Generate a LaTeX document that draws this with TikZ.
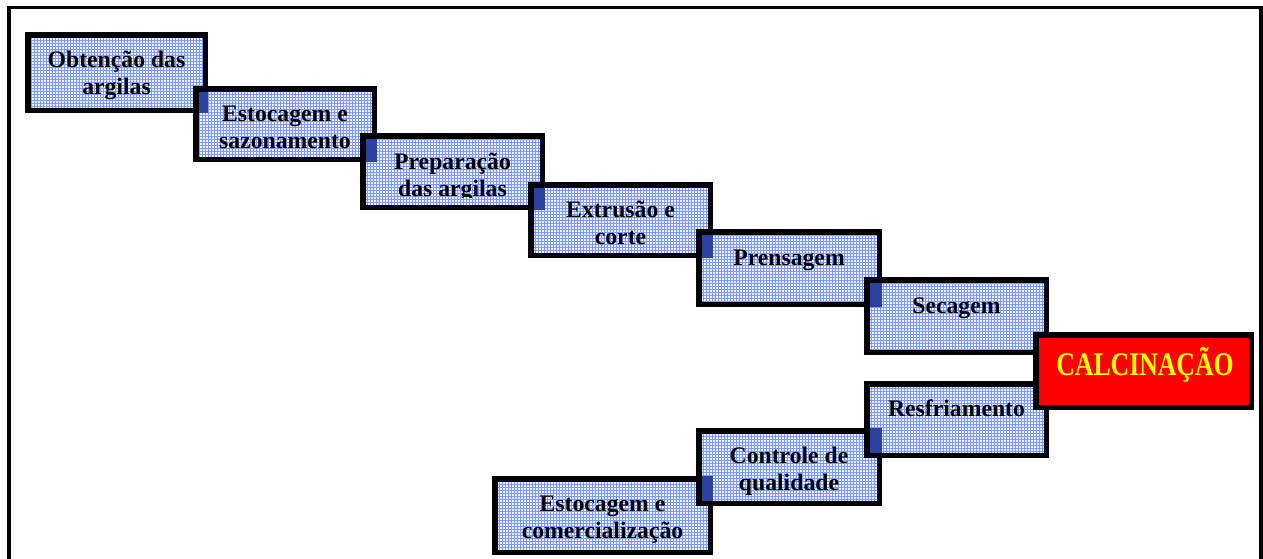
\documentclass[tikz,border=0pt]{standalone}
\usepackage{fontspec}
\setmainfont{Liberation Serif}
\usetikzlibrary{patterns.meta,calc}
\definecolor{boxfill}{RGB}{236,241,255}
\definecolor{gridline}{RGB}{125,152,245}
\definecolor{overlapfill}{RGB}{45,65,160}
\definecolor{calcred}{RGB}{255,0,0}
\definecolor{calcyellow}{RGB}{255,255,0}
\tikzdeclarepattern{
  name=finegrid,
  type=uncolored,
  bounding box={(-0.5pt,-0.5pt) and (3.5pt,3.5pt)},
  tile size={(3pt,3pt)},
  code={
    \draw[line width=1pt] (0pt,1.5pt) -- (3pt,1.5pt) (1.5pt,0pt) -- (1.5pt,3pt);
  }
}
\tikzset{
  stepbox/.style 2 args={draw=black, line width=5.5pt, outer sep=0pt, inner sep=0pt,
    preaction={fill=boxfill}, pattern=finegrid, pattern color=gridline,
    minimum width=#1, minimum height=#2},
  calcbox/.style 2 args={draw=black, line width=5.5pt, outer sep=0pt, inner sep=0pt,
    fill=calcred, minimum width=#1, minimum height=#2},
  boxtext/.style={font=\bfseries\fontsize{23.7}{27.4}\selectfont, align=center,
    inner sep=0pt, anchor=base},
  calctext/.style={font=\bfseries\fontsize{33}{36}\selectfont, text=calcyellow,
    inner sep=0pt, anchor=base},
  darkbit/.style={fill=overlapfill},
  frameline/.style={line width=3.8pt, draw=black}
}
\begin{document}
\begin{tikzpicture}[x=1pt,y=-1pt]
\useasboundingbox (0,0) rectangle (1263,558);
\fill[white] (0,0) rectangle (1263,558);
% frame (open at the bottom)
\coordinate (fbl) at (8.7,600);
\coordinate (ftl) at (8.7,7.5);
\coordinate (ftr) at (1261,7.5);
\coordinate (fbr) at (1261,600);
\draw[frameline] (fbl) -- (ftl) -- (ftr) -- (fbr);

% upper chain (anchor = baseline of the last line)
\node[stepbox={177.5pt}{75.5pt}] (b1) at (116.5,72.5) {};
\node[boxtext] (t1) at (116.5,94.4) {Obtenção das\\argilas};

\node[stepbox={178.5pt}{70.5pt}] (b2) at (285,124) {};
\fill[darkbit] ($(b2.north west)+(2.75,2.75)$) rectangle ($(b1.south east)+(2.75,2.75)$);
\node[boxtext] (t2) at (285,148.9) {Estocagem e\\sazonamento};

\node[stepbox={179.5pt}{71.5pt}] (b3) at (452.5,171.5) {};
\fill[darkbit] ($(b3.north west)+(2.75,2.75)$) rectangle ($(b2.south east)+(2.75,2.75)$);
\begin{scope}
\clip (360,133) rectangle (545,197);
\node[boxtext] (t3) at (452.5,196.4) {Preparação\\das argilas};
\end{scope}

\node[stepbox={179.5pt}{70.5pt}] (b4) at (620.5,220) {};
\fill[darkbit] ($(b4.north west)+(2.75,2.75)$) rectangle ($(b3.south east)+(2.75,2.75)$);
\node[boxtext] (t4) at (620.5,244.9) {Extrusão e\\corte};

\node[stepbox={180.5pt}{72.5pt}] (b5) at (789,268) {};
\fill[darkbit] ($(b5.north west)+(2.75,2.75)$) rectangle ($(b4.south east)+(2.75,2.75)$);
\node[boxtext] (t5) at (789,265) {Prensagem};

\node[stepbox={179.5pt}{72.5pt}] (b6) at (956.5,316) {};
\fill[darkbit] ($(b6.north west)+(2.75,2.75)$) rectangle ($(b5.south east)+(2.75,2.75)$);
\node[boxtext] (t6) at (956.5,313) {Secagem};

% lower chain
\node[stepbox={215.5pt}{73.5pt}] (b10) at (602.5,515.5) {};
\node[boxtext] (t10) at (602.5,538.4) {Estocagem e\\comercialização};

\node[stepbox={180.5pt}{72.5pt}] (b9) at (789,467) {};
\fill[darkbit] ($(b9.south west)+(2.75,-2.75)$) rectangle ($(b10.north east)+(2.75,-2.75)$);
\node[boxtext] (t9) at (789,490.9) {Controle de\\qualidade};

\node[stepbox={179.5pt}{71.5pt}] (b8) at (956.5,419.5) {};
\fill[darkbit] ($(b8.south west)+(2.75,-2.75)$) rectangle ($(b9.north east)+(2.75,-2.75)$);
\node[boxtext] (t8) at (956.5,416) {Resfriamento};

% calcination
\node[calcbox={215.5pt}{72.5pt}] (b7) at (1143.5,371) {};
\node[calctext] (t7) at (1145,375) {\scalebox{0.78}[1]{CALCINAÇÃO}};
\end{tikzpicture}
\end{document}
